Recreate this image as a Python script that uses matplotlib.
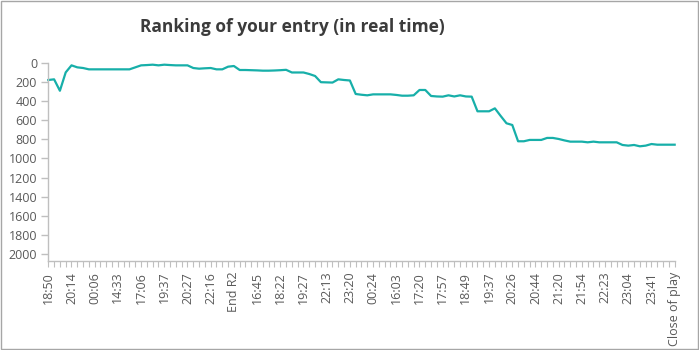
import matplotlib
matplotlib.use('Agg')
import matplotlib.pyplot as plt
from matplotlib.patches import Rectangle

plt.rcParams['font.family'] = ['Open Sans', 'DejaVu Sans']

# rank of the entry at each update, best rank = 0 at the top
ranks = [175, 168, 288, 95, 21, 42, 49, 63, 63, 63,
         63, 63, 63, 63, 63, 42, 21, 18, 14, 21,
         14, 18, 21, 21, 21, 49, 56, 52, 49, 63,
         63, 35, 28, 70, 70, 72, 74, 77, 77, 75,
         72, 68, 96, 96, 96, 112, 133, 198, 200, 202,
         168, 175, 180, 322, 330, 336, 326, 326, 326, 326,
         332, 340, 340, 336, 280, 280, 343, 348, 350, 336,
         348, 336, 348, 350, 504, 504, 504, 473, 553, 630,
         648, 819, 819, 805, 805, 805, 784, 784, 795, 810,
         823, 823, 823, 830, 823, 830, 830, 830, 830, 858,
         865, 858, 872, 865, 848, 855, 855, 855, 855]

# labels shown on every fourth update
time_labels = ['18:50', '20:14', '00:06', '14:33', '17:06', '19:37', '20:27',
               '22:16', 'End R2', '16:45', '18:22', '19:27', '22:13', '23:20',
               '00:24', '16:03', '17:20', '17:57', '18:49', '19:37', '20:26',
               '20:44', '21:20', '21:54', '22:23', '23:04', '23:41', 'Close of play']
label_step = 4

rank_ticks = list(range(0, 2001, 200))

grey_axis = '#bfbfbf'
grey_text = '#595959'
line_col = '#17afa9'

fig = plt.figure(figsize=(6.99, 3.5), dpi=100)
ax = fig.add_axes([0.0691, 0.255, 0.8961, 0.564])

x = list(range(len(ranks)))
ax.plot(x, ranks, color=line_col, linewidth=1.6, solid_joinstyle='round', clip_on=False)

ax.set_xlim(0, len(ranks) - 1)
ax.set_ylim(2075, 0)

ax.set_yticks(rank_ticks)
ax.set_yticklabels([str(v) for v in rank_ticks])
ax.set_xticks(x, minor=True)
ax.set_xticks(x[::label_step])
ax.set_xticklabels(time_labels, rotation=90)

for side in ['top', 'right']:
    ax.spines[side].set_visible(False)
for side in ['left', 'bottom']:
    ax.spines[side].set_color(grey_axis)
    ax.spines[side].set_linewidth(1.0)

ax.tick_params(axis='y', which='major', length=5, width=1, color=grey_axis,
               labelcolor=grey_text, labelsize=9, pad=3)
ax.tick_params(axis='x', which='both', length=4, width=0.8, color=grey_axis,
               labelcolor=grey_text, labelsize=9, pad=4)

fig.text(292 / 699, 1 - 27 / 350, 'Ranking of your entry (in real time)',
         ha='center', va='center', fontsize=12.5, fontweight='bold', color='#3b3b3b')

# chart area frame
fig.patches.append(Rectangle((0.001, 0.003), 0.997, 0.995, transform=fig.transFigure,
                             fill=False, edgecolor='#a6a6a6', linewidth=1.0))

fig.savefig('out.png', dpi=100)
